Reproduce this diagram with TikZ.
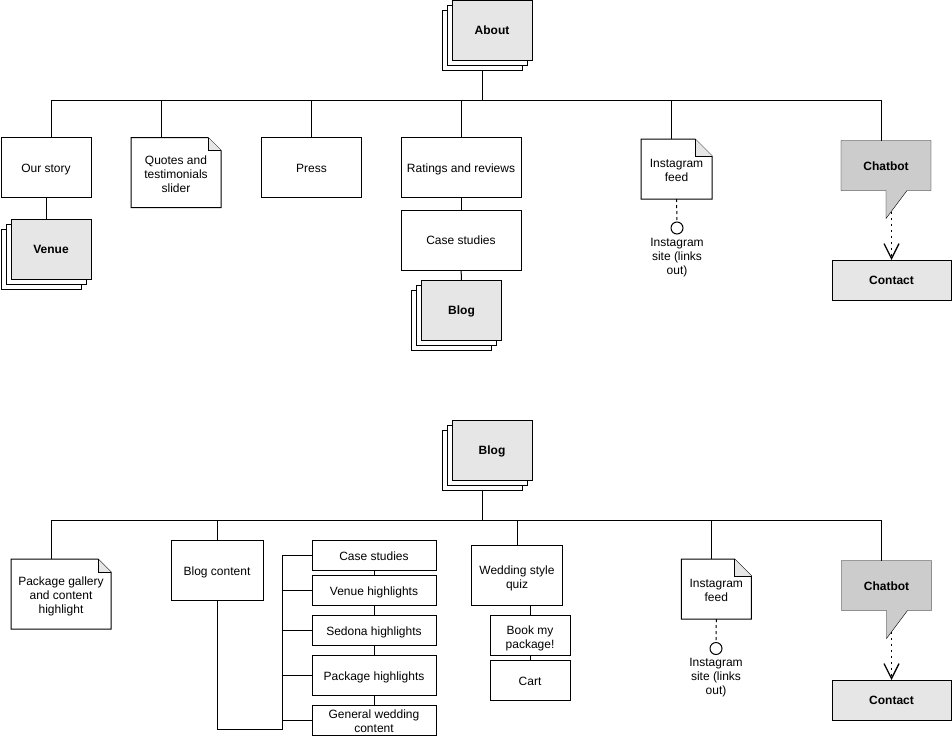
\documentclass[tikz,border=0pt]{standalone}
\usepackage{fontspec}
\setmainfont{Liberation Sans}
\usetikzlibrary{arrows.meta,calc,shadows,backgrounds}
\definecolor{PageClr}{HTML}{E6E6E6}
\definecolor{BotClr}{HTML}{CCCCCC}
\newcommand\lift{\rule{0pt}{13.5pt}}

\begin{document}
\begin{tikzpicture}[x=1pt,y=-1pt,line width=1pt,
  txt/.style={font=\fontsize{12}{14}\selectfont,align=center,inner sep=0pt,outer sep=0pt,
    execute at begin node={\rule{0pt}{11.5pt}},
    execute at end node={\rule[-2.5pt]{0pt}{0pt}}},
  bold/.style={txt,font=\fontsize{12}{14}\selectfont\bfseries},
  sz/.style 2 args={minimum width=#1,minimum height=#2},
  box/.style={txt,draw,fill=white},
  page/.style={bold,draw,fill=PageClr},
  stack/.style={page,sz={80}{60},
    copy shadow={shadow xshift=-10pt,shadow yshift=-10pt,fill=white,draw=black},
    copy shadow={shadow xshift=-5pt,shadow yshift=-5pt,fill=white,draw=black}},
  dashline/.style={dash pattern=on 3pt off 3pt},
  dotarrow/.style={dash pattern=on 2pt off 4pt,
    -{Straight Barb[length=15pt,width=15pt,line width=1.3pt]}},
  site/.style={circle,draw,minimum size=12,inner sep=0pt,outer sep=0pt}]
\useasboundingbox (0,0) rectangle (952,736);

\node[stack] (aboutA) at (492,30) {About};
\node[box,sz={90}{60}] (ourstory) at (46,167.5) {Our story};
\node[stack] (venue) at (51,249) {Venue};
\node[txt,sz={90}{70}] (quotes) at (176,172.5) {\lift Quotes and\\testimonials\\slider};
\node[box,sz={100}{60}] (press) at (311.5,167.5) {Press};
\node[box,sz={120}{60}] (ratings) at (461,167.5) {Ratings and reviews};
\node[box,sz={120}{60}] (casestudies) at (461,240) {Case studies};
\node[stack] (blogA) at (461.5,310) {Blog};
\node[txt,sz={71}{60}] (instaA) at (676.5,169) {\lift Instagram\\feed};
\node[site,label={[txt,label distance=4pt]below:Instagram\\site (links\\out)}] (siteA) at (677,228) {};
\node[bold,sz={90}{50}] (chatA) at (886,165.5) {Chatbot};
\node[page,sz={119}{40}] (contactA) at (891.5,280) {Contact};

\node[stack] (blogB) at (492,450) {Blog};
\node[txt,sz={100}{70}] (gallery) at (61,594) {\lift Package gallery\\and content\\highlight};
\node[box,sz={92}{60}] (blogcontent) at (217,570.5) {Blog content};
\node[box,sz={124}{30}] (subcase) at (374,555.5) {Case studies};
\node[box,sz={124}{30}] (subvenue) at (374,590.5) {Venue highlights};
\node[box,sz={124}{30}] (subsedona) at (374,630.5) {Sedona highlights};
\node[box,sz={124}{40}] (subpackage) at (374,675.5) {Package highlights};
\node[box,sz={124}{30}] (subgeneral) at (374,720) {\lift General wedding\\content};
\node[box,sz={91}{60}] (quiz) at (517,575.5) {\lift Wedding style\\quiz};
\node[box,sz={80}{40}] (book) at (530,635.5) {\lift Book my\\package!};
\node[box,sz={80}{40}] (cart) at (530,680.5) {Cart};
\node[txt,sz={70}{60}] (instaB) at (716.3,589) {\lift Instagram\\feed};
\node[site,label={[txt,label distance=4pt]below:Instagram\\site (links\\out)}] (siteB) at (716,648.5) {};
\node[bold,sz={90}{50}] (chatB) at (886.5,585.5) {Chatbot};
\node[page,sz={119}{40}] (contactB) at (891.5,700) {Contact};

\foreach \n/\f in {quotes/13,instaA/17,gallery/13,instaB/17}{
  \draw (\n.south west) -- (\n.north west) -- ([xshift=-\f]\n.north east)
    -- ([yshift=-\f]\n.north east) -- (\n.south east) -- cycle;
  \draw[fill=PageClr] ([xshift=-\f]\n.north east) -- ([xshift=-\f,yshift=-\f]\n.north east)
    -- ([yshift=-\f]\n.north east);
}

\begin{scope}[on background layer]
\foreach \c in {chatA,chatB}
  \draw[fill=BotClr] (\c.north west) -- (\c.north east) -- (\c.south east)
    -- ([xshift=21]\c.south) -- ([yshift=-28]\c.south) coordinate (\c-tip)
    -- (\c.south) -- (\c.south west) -- cycle;
\end{scope}

\coordinate (busA) at (482,100);
\draw ([shift={(-10,10)}]aboutA.south) -- (busA);
\foreach \n/\s in {ourstory/-5,quotes/15,press/0,ratings/0,instaA/5,chatA/5}
  \draw (busA) -| ([xshift=-\s]\n.north);
\draw (ourstory.south) -- (ourstory.south |- venue.north);
\draw (ratings) -- (casestudies);
\draw (casestudies) -- (blogA);
\draw[dashline] (instaA.south) -- (siteA.north);

\coordinate (busB) at (482,520);
\draw ([shift={(-10,10)}]blogB.south) -- (busB);
\foreach \n/\s in {gallery/10,blogcontent/0,quiz/0,instaB/5,chatB/5.5}
  \draw (busB) -| ([xshift=-\s]\n.north);
\coordinate (trunk) at (282,729.5);
\draw (blogcontent.south) |- (trunk);
\foreach \n in {subcase,subvenue,subsedona,subpackage,subgeneral}
  \draw (trunk) |- (\n.west);
\foreach \a/\b in {subcase/subvenue,subvenue/subsedona,subsedona/subpackage,subpackage/subgeneral}
  \draw (\a.south) -- (\b.north);
\draw (quiz.south -| book.north) -- (book.north);
\draw (book) -- (cart);
\draw[dashline] (instaB.south) -- (siteB.north);

\foreach \c/\k in {chatA/contactA,chatB/contactB}
  \draw[dotarrow] ([yshift=7pt]\c-tip -| \k.north) -- (\k.north);

\end{tikzpicture}
\end{document}
